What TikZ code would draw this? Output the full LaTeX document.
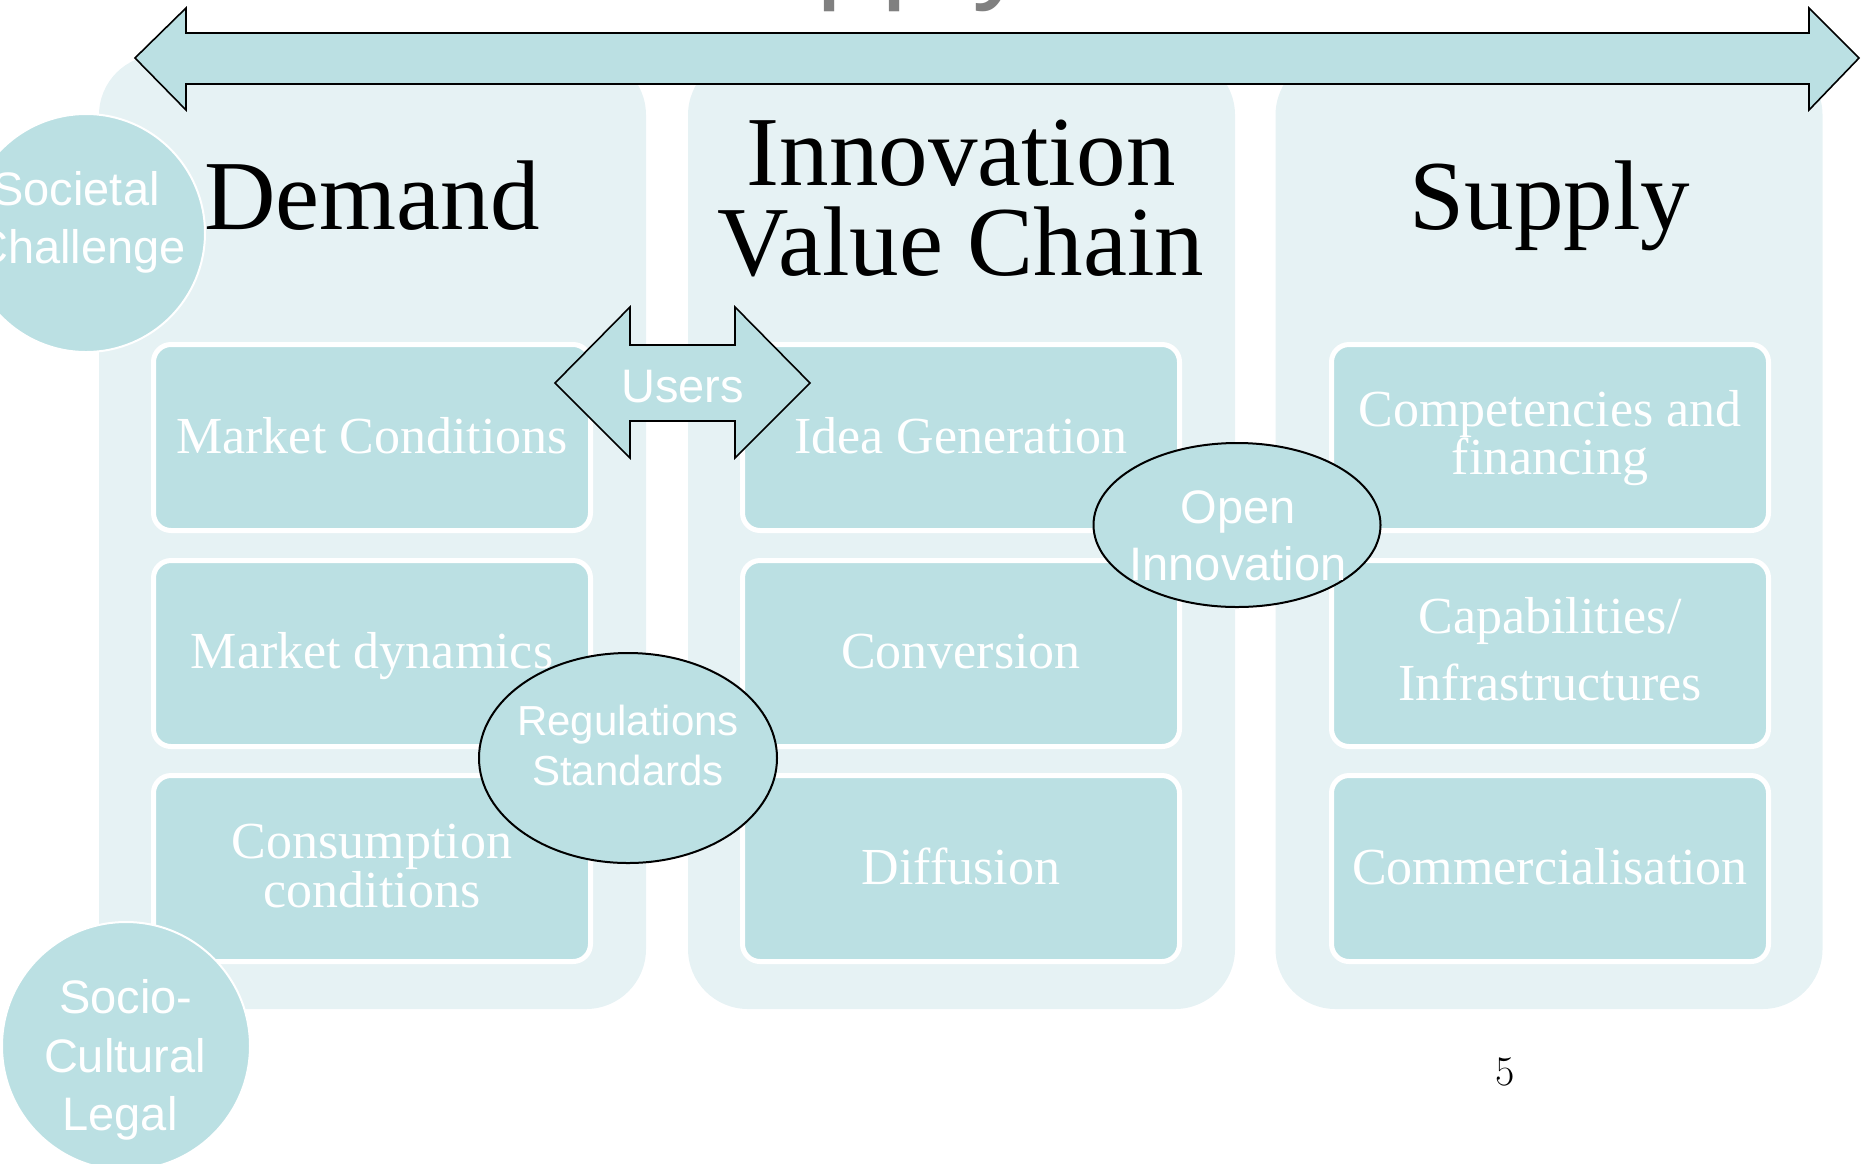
\documentclass[tikz,border=0pt]{standalone}
\usepackage{fontspec}
\newfontfamily\bxfont{Liberation Serif}
\newfontfamily\lbfont{Liberation Sans}
\usetikzlibrary{shapes.geometric}
\definecolor{panelbg}{RGB}{230,242,244}
\definecolor{aqua}{RGB}{187,224,227}
\definecolor{topgray}{RGB}{128,128,128}

\begin{document}
\begin{tikzpicture}[x=0.5pt,y=-0.5pt,
  panel/.style={rectangle, fill=panelbg, draw=none, rounded corners=30pt,
    minimum width=273.5pt, minimum height=477pt, inner sep=0pt},
  stagebox/.style={rectangle, fill=aqua, draw=white, line width=2.5pt,
    rounded corners=8.75pt, minimum width=218.5pt, minimum height=93pt, inner sep=0pt},
  boxtxt/.style={text=white, font=\bxfont\fontsize{26}{30}\selectfont, anchor=base, inner sep=0pt},
  titletxt/.style={text=black, font=\bxfont\fontsize{49.5}{50}\selectfont, anchor=base, inner sep=0pt},
  lbl/.style={text=white, font=\lbfont\fontsize{23.5}{28}\selectfont, anchor=base, inner sep=0pt},
  smalllbl/.style={text=white, font=\lbfont\fontsize{21}{25}\selectfont, anchor=base, inner sep=0pt},
  disc/.style={circle, fill=aqua, draw=white, line width=1pt, inner sep=0pt},
  oval/.style={ellipse, fill=aqua, draw=black, line width=1pt, inner sep=0pt},
  arrowshape/.style={fill=aqua, draw=black, line width=0.8pt, line join=miter}
]
\useasboundingbox (0,0) rectangle (1872,1163);

% heading above the frame, mostly outside the page
\begin{scope}
  \clip (0,0) rectangle (1872,1163);
  \node[anchor=base west, inner sep=0pt, text=topgray,
        font=\lbfont\fontsize{58.5}{60}\selectfont] (toplabel) at (673,-13) {Supply};
\end{scope}

% three column panels
\node[panel] (pdemand) at (372.5,532) {};
\node[panel] (pchain)  at (961.5,532) {};
\node[panel] (psupply) at (1549,532) {};

% stage boxes
\node[stagebox] (b11) at (372,437.5) {};
\node[stagebox] (b12) at (372,653.5) {};
\node[stagebox] (b13) at (372,868.5) {};
\node[stagebox] (b21) at (961,437.5) {};
\node[stagebox] (b22) at (961,653.5) {};
\node[stagebox] (b23) at (961,868.5) {};
\node[stagebox] (b31) at (1550,437.5) {};
\node[stagebox] (b32) at (1550,653.5) {};
\node[stagebox] (b33) at (1550,868.5) {};

% box texts
\node[boxtxt] (t11) at (372,453) {Market Conditions};
\node[boxtxt] (t12) at (372,668) {Market dynamics};
\node[boxtxt] (t13a) at (372,858) {Consumption};
\node[boxtxt] (t13b) at (372,907) {conditions};
\node[boxtxt] (t21) at (961,453) {Idea Generation};
\node[boxtxt] (t22) at (961,668) {Conversion};
\node[boxtxt] (t23) at (961,884) {Diffusion};
\node[boxtxt] (t31a) at (1550,426) {Competencies and};
\node[boxtxt] (t31b) at (1550,474) {financing};
\node[boxtxt] (t32a) at (1550,633) {Capabilities/};
\node[boxtxt] (t32b) at (1550,700) {Infrastructures};
\node[boxtxt] (t33) at (1550,884) {Commercialisation};

% column titles
\node[titletxt] (hdemand) at (372,229) {Demand};
\node[titletxt] (hchain1) at (961,185) {Innovation};
\node[titletxt] (hchain2) at (961,275) {Value Chain};
\node[titletxt] (hsupply) at (1550,229) {Supply};

% long double arrow across the top
\draw[arrowshape] (135,58) -- (186,8) -- (186,33) -- (1809,33) -- (1809,8)
  -- (1859,58) -- (1809,110) -- (1809,84) -- (186,84) -- (186,110) -- cycle;

% users double arrow
\draw[arrowshape] (555,383) -- (630,307) -- (630,345) -- (735,345) -- (735,307)
  -- (810,383) -- (735,458) -- (735,421) -- (630,421) -- (630,458) -- cycle;
\node[lbl] (users) at (682.5,402) {Users};

% ovals
\node[oval, minimum width=143.5pt, minimum height=82pt] (openinn) at (1237,525) {};
\node[lbl] (oi1) at (1238,523) {Open};
\node[lbl] (oi2) at (1238,580) {Innovation};

\node[oval, minimum width=149pt, minimum height=105pt] (regs) at (628,758) {};
\node[smalllbl] (rg1) at (628,735) {Regulations};
\node[smalllbl] (rg2) at (628,785) {Standards};

% side discs
\node[disc, minimum size=119pt] (societal) at (86,233) {};
\node[lbl] (sc1) at (76,205) {Societal};
\node[lbl] (sc2) at (80,263) {Challenge};

\node[disc, minimum size=124pt] (socio) at (126,1046) {};
\node[lbl] (so1) at (126,1013) {Socio-};
\node[lbl] (so2) at (125,1072) {Cultural};
\node[lbl] (so3) at (120,1130) {Legal};

% page number
\node[anchor=base, inner sep=0pt, font=\fontsize{21}{24}\selectfont] (pagenum) at (1505,1085) {5};
\end{tikzpicture}
\end{document}
